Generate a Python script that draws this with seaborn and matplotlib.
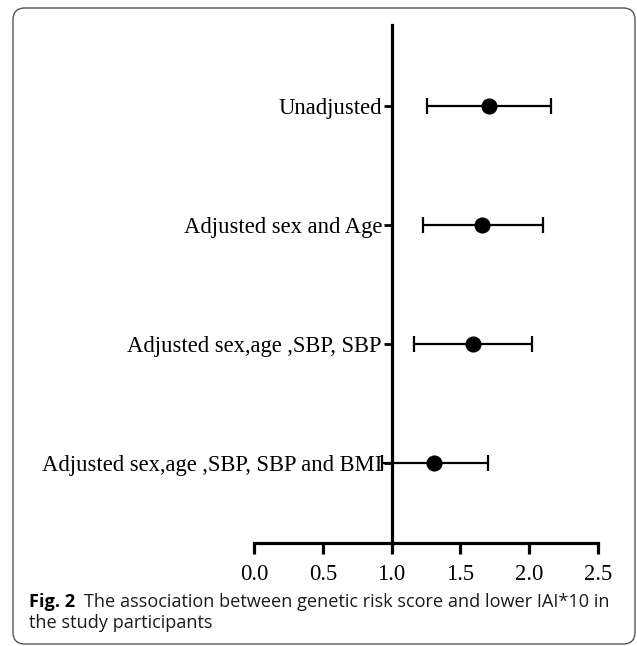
import matplotlib

matplotlib.use("Agg")
import matplotlib.pyplot as plt
from matplotlib.patches import FancyBboxPatch
import numpy as np
import pandas as pd
import seaborn as sns

# data
LABELS = [
    "Unadjusted",
    "Adjusted sex and Age",
    "Adjusted sex,age ,SBP, SBP",
    "Adjusted sex,age ,SBP, SBP and BMI",
]
ESTIMATE = [1.71, 1.66, 1.59, 1.31]
LOWER = [1.26, 1.23, 1.16, 0.93]
UPPER = [2.16, 2.10, 2.02, 1.70]
X_TICKS = [0.0, 0.5, 1.0, 1.5, 2.0, 2.5]

CAPTION_BOLD = "Fig. 2"
CAPTION_LINE1 = "The association between genetic risk score and lower IAI*10 in"
CAPTION_LINE2 = "the study participants"

W, H = 637, 646

sns.set_style("ticks")
plt.rcParams["font.family"] = ["Liberation Serif", "DejaVu Serif"]
plt.rcParams["axes.edgecolor"] = "black"
plt.rcParams["text.color"] = "black"
plt.rcParams["xtick.color"] = "black"
plt.rcParams["ytick.color"] = "black"

df = pd.DataFrame(
    {"label": LABELS, "est": ESTIMATE, "lo": LOWER, "hi": UPPER}
)
df["pos"] = np.arange(len(df))

fig = plt.figure(figsize=(W / 100, H / 100), dpi=100)
ax = fig.add_axes([254 / W, 1 - 543 / H, (598 - 254) / W, (543 - 25) / H])

ax.errorbar(
    df["est"], df["pos"],
    xerr=[df["est"] - df["lo"], df["hi"] - df["est"]],
    fmt="none", ecolor="black", elinewidth=1.6, capsize=5.5, capthick=1.6,
    zorder=2,
)
sns.scatterplot(
    data=df, x="est", y="pos", color="black", s=135, edgecolor="black",
    linewidth=0, zorder=3, ax=ax, legend=False,
)

ax.set_xlim(0, 2.5)
ax.set_ylim(len(df) - 1 + 0.67, -0.68)
ax.set_xticks(X_TICKS)
ax.set_xticklabels([f"{t:.1f}" for t in X_TICKS])
ax.set_yticks(df["pos"])
ax.set_yticklabels(df["label"])
ax.set_xlabel("")
ax.set_ylabel("")

for side in ("top", "right"):
    ax.spines[side].set_visible(False)
ax.spines["left"].set_position(("data", 1.0))
ax.spines["left"].set_linewidth(2.3)
ax.spines["bottom"].set_linewidth(2.3)
ax.tick_params(axis="x", length=8, width=2.3, labelsize=16.3, pad=7)
ax.tick_params(axis="y", length=6, width=2.0, labelsize=16.3, pad=1)

# caption
cap_size = 13.1
cap_font = ["Open Sans", "DejaVu Sans"]
t1 = fig.text(29 / W, 1 - 602 / H, CAPTION_BOLD, fontsize=cap_size, fontweight="bold",
              family=cap_font, va="center", ha="left")
fig.canvas.draw()
bb = t1.get_window_extent()
fig.text((bb.x1 + 9) / W, 1 - 602 / H, CAPTION_LINE1, fontsize=cap_size,
         family=cap_font, va="center", ha="left", color="#1a1a1a")
fig.text(29 / W, 1 - 623 / H, CAPTION_LINE2, fontsize=cap_size,
         family=cap_font, va="center", ha="left", color="#1a1a1a")

border = FancyBboxPatch(
    (13 / W, 1 - 644 / H), (635 - 13) / W, (644 - 8) / H,
    boxstyle="round,pad=0,rounding_size=0.018", transform=fig.transFigure,
    fill=False, edgecolor="#555555", linewidth=1.0,
)
fig.patches.append(border)

fig.savefig("out.png", dpi=100)
